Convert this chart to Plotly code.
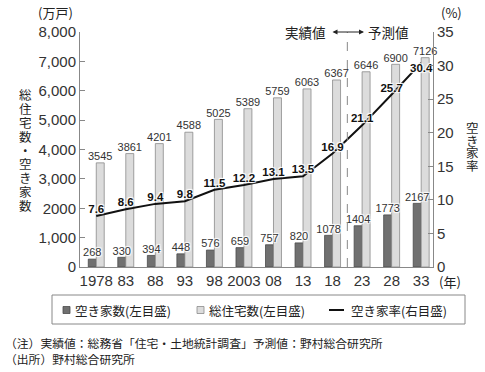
import plotly.graph_objects as go

years = ["1978", "83", "88", "93", "98", "2003", "08", "13", "18", "23", "28", "33"]
total_houses = [3545, 3861, 4201, 4588, 5025, 5389, 5759, 6063, 6367, 6646, 6900, 7126]
vacant_houses = [268, 330, 394, 448, 576, 659, 757, 820, 1078, 1404, 1773, 2167]
vacancy_rate = [7.6, 8.6, 9.4, 9.8, 11.5, 12.2, 13.1, 13.5, 16.9, 21.1, 25.7, 30.4]
left_ticks = [0, 1000, 2000, 3000, 4000, 5000, 6000, 7000, 8000]
left_tick_text = ["0", "1,000", "2000", "3,000", "4,000", "5,000", "6,000", "7,000", "8,000"]
right_ticks = [0, 5, 10, 15, 20, 25, 30, 35]

W, H = 485, 372
X0, X1, YT, YB = 80, 433, 32, 267
BW = 0.27  # bar width in category units


def px(x):
    return (x - X0) / (X1 - X0)


def py(y):
    return (YB - y) / (YB - YT)


CJK = "Noto Sans CJK JP, sans-serif"
NUM = "Liberation Sans, Arial, sans-serif"
NARROW = "Liberation Sans Narrow, Arial Narrow, Liberation Sans, sans-serif"
HALO = "1px 1px 1px white, -1px -1px 1px white, 1px -1px 1px white, -1px 1px 1px white"
DARK, DARK_LINE = "#707070", "#4a4a4a"
LIGHT, LIGHT_LINE = "#dcdcdc", "#8a8a8a"

idx = list(range(len(years)))

fig = go.Figure()
fig.add_trace(go.Bar(
    x=idx, y=vacant_houses, name="空き家数(左目盛)", offset=-BW, width=BW,
    marker=dict(color=DARK, line=dict(color=DARK_LINE, width=0.8)),
))
fig.add_trace(go.Bar(
    x=idx, y=total_houses, name="総住宅数(左目盛)", offset=0, width=BW,
    marker=dict(color=LIGHT, line=dict(color=LIGHT_LINE, width=0.8)),
))
fig.add_trace(go.Scatter(
    x=[i - BW / 2 for i in idx], y=vacant_houses, mode="text",
    text=[str(v) for v in vacant_houses], textposition="top center",
    textfont=dict(family=NARROW, size=11, color="#333", shadow=HALO),
    cliponaxis=False, hoverinfo="skip",
))
fig.add_trace(go.Scatter(
    x=[i + BW / 2 for i in idx], y=total_houses, mode="text",
    text=[str(v) for v in total_houses], textposition="top center",
    textfont=dict(family=NARROW, size=11, color="#333", shadow=HALO),
    cliponaxis=False, hoverinfo="skip",
))
rate_pos = ["top center"] * (len(vacancy_rate) - 1) + ["bottom center"]
fig.add_trace(go.Scatter(
    x=idx, y=vacancy_rate, name="空き家率(右目盛)", yaxis="y2",
    mode="lines+text", line=dict(color="#111", width=2),
    text=[f"{v:.1f}" for v in vacancy_rate], textposition=rate_pos,
    textfont=dict(family=NARROW, size=11.5, color="#111", weight="bold", shadow=HALO),
    cliponaxis=False,
))

shapes = [dict(type="line", xref="x", yref="paper", x0=8.5, x1=8.5, y0=0, y1=1,
               line=dict(color="#888", width=1, dash="dash"))]


def rect(x0, y0, x1, y1, fill, line, lw=1):
    shapes.append(dict(type="rect", xref="paper", yref="paper",
                       x0=px(x0), x1=px(x1), y0=py(y1), y1=py(y0),
                       fillcolor=fill, line=dict(color=line, width=lw)))


# manual legend
rect(52, 295, 465, 324, "rgba(0,0,0,0)", "#888", 1)
LY = 310
rect(63, LY - 3.5, 70, LY + 3.5, DARK, DARK_LINE, 0.8)
rect(197, LY - 3.5, 204, LY + 3.5, LIGHT, LIGHT_LINE, 0.8)
shapes.append(dict(type="line", xref="paper", yref="paper", x0=px(329), x1=px(344),
                   y0=py(LY), y1=py(LY), line=dict(color="#111", width=2)))

annotations = []


def ann(text, x, y, size=13, xanchor="center", yanchor="middle", family=CJK, color="#222", **kw):
    annotations.append(dict(text=text, x=px(x), y=py(y), xref="paper", yref="paper",
                            showarrow=False, xanchor=xanchor, yanchor=yanchor,
                            font=dict(family=family, size=size, color=color), **kw))


def vtext(text, x, y_center, step, size):
    n = len(text)
    top = y_center - step * (n - 1) / 2
    for k, ch in enumerate(text):
        ann(ch, x, top + k * step, size=size, height=step - 1, borderpad=0)


ann("空き家数(左目盛)", 73, LY, size=12.5, xanchor="left")
ann("総住宅数(左目盛)", 207, LY, size=12.5, xanchor="left")
ann("空き家率(右目盛)", 349, LY, size=12.5, xanchor="left")

ann("(万戸)", 55, 12, size=13)
ann("(%)", 451, 12, size=13)
ann("(年)", 450, 281, size=13)
vtext("総住宅数・空き家数", 25, 150, 13.8, 12.5)
vtext("空き家率", 472, 147, 12.8, 12.5)
ann("実績値", 328, 32, size=13.5, xanchor="right")
ann("予測値", 366, 32, size=13.5, xanchor="left")
annotations.append(dict(x=px(364), y=py(32), xref="paper", yref="paper", ax=-33, ay=0,
                        text="", showarrow=True, arrowside="end+start", arrowhead=2,
                        arrowsize=1, arrowwidth=1, arrowcolor="#222"))
ann("（注）実績値：総務省「住宅・土地統計調査」予測値：野村総合研究所", 3, 342, size=11.8,
    xanchor="left")
ann("（出所）野村総合研究所", 3, 358, size=11.8, xanchor="left")

fig.update_layout(
    width=W, height=H,
    margin=dict(l=X0, r=W - X1, t=YT, b=H - YB, pad=0),
    paper_bgcolor="white", plot_bgcolor="white",
    barmode="overlay",
    showlegend=False,
    xaxis=dict(range=[-0.55, 11.4], tickvals=idx, ticktext=years,
               showline=True, linecolor="#888",
               ticks="", tickfont=dict(family=NUM, size=15, color="#333"),
               showgrid=False, zeroline=False),
    yaxis=dict(range=[0, 8000], tickvals=left_ticks, ticktext=left_tick_text,
               showline=True, linecolor="#888", ticks="inside", ticklen=5, tickcolor="#888",
               tickfont=dict(family=NUM, size=15, color="#333"),
               showgrid=False, zeroline=False),
    yaxis2=dict(range=[0, 35], tickvals=right_ticks, overlaying="y", side="right",
                showline=True, linecolor="#888", ticks="inside", ticklen=5, tickcolor="#888",
                tickfont=dict(family=NUM, size=15, color="#333"),
                showgrid=False, zeroline=False),
    shapes=shapes,
    annotations=annotations,
)

fig.write_html("out.html", config={"displayModeBar": False},
               post_script="document.body.style.margin='0';")
